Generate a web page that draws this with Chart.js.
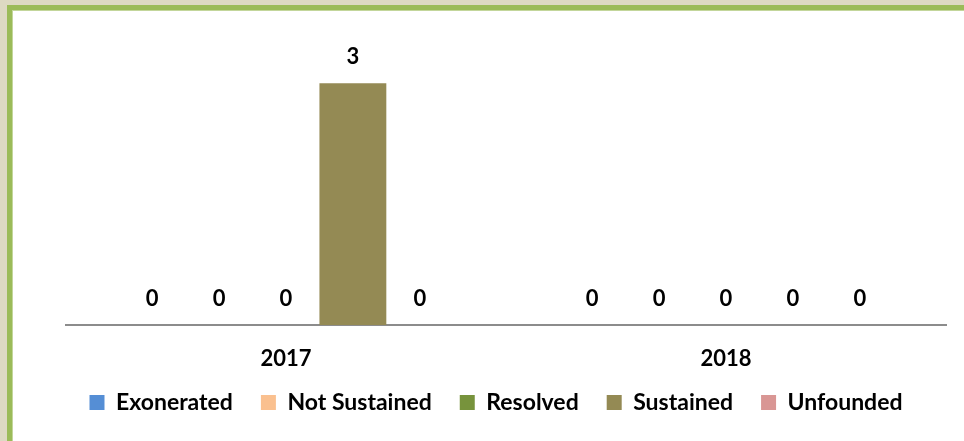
<!DOCTYPE html>
<html>
<head>
<meta charset="utf-8">
<script src="https://cdn.jsdelivr.net/npm/chart.js@4.4.0/dist/chart.umd.min.js"></script>
<style>
  html, body { margin: 0; padding: 0; background: #ddd9c3; overflow: hidden; }
  #frame {
    position: absolute; left: 7px; top: 5px; width: 980px; height: 460px;
    background: #fff; border-left: 5px solid #9bbb59; border-top: 5px solid #9bbb59;
    box-shadow: inset 1px 1px 0 #c3d69b;
  }
  #myChart { position: absolute; left: 0; top: 0; }
</style>
</head>
<body>
<div id="frame"></div>
<canvas id="myChart" width="964" height="441"></canvas>
<script>
var categories = ['2017', '2018'];
var seriesNames = ['Exonerated', 'Not Sustained', 'Resolved', 'Sustained', 'Unfounded'];
var exonerated = [0, 0];
var notSustained = [0, 0];
var resolved = [0, 0];
var sustained = [3, 0];
var unfounded = [0, 0];
var colors = ['#558ed5', '#fac08f', '#77933c', '#948a54', '#d99694'];

var FONT = 'Lato';

// draws the value above each bar
var valueLabels = {
    id: 'valueLabels',
    afterDatasetsDraw: function(chart) {
        var ctx = chart.ctx;
        ctx.save();
        ctx.font = 'bold 22px ' + FONT;
        ctx.fillStyle = '#000';
        ctx.textAlign = 'center';
        ctx.textBaseline = 'alphabetic';
        chart.data.datasets.forEach(function(ds, i) {
            chart.getDatasetMeta(i).data.forEach(function(bar, j) {
                ctx.fillText(ds.data[j], bar.x, bar.y - 19);
            });
        });
        ctx.restore();
    }
};

// nudge the legend a bit up and left, keeps the wide spacing between items
var legendNudge = {
    id: 'legendNudge',
    afterLayout: function(chart) {
        var lg = chart.legend;
        lg.top -= 10; lg.bottom -= 10;
        lg.left -= 10; lg.right -= 10;
    }
};

var allData = [exonerated, notSustained, resolved, sustained, unfounded];
var datasets = seriesNames.map(function(name, i) {
    return {
        label: name,
        data: allData[i],
        backgroundColor: colors[i],
        borderWidth: 0
    };
});

var ctx = document.getElementById('myChart').getContext('2d');
var myChart = new Chart(ctx, {
    type: 'bar',
    data: { labels: categories, datasets: datasets },
    options: {
        responsive: false,
        animation: false,
        layout: { padding: { left: 66, right: 18, top: 43, bottom: 7 } },
        datasets: { bar: { categoryPercentage: 0.76, barPercentage: 1.0 } },
        scales: {
            x: {
                grid: { display: false, drawTicks: false },
                border: { display: true, color: '#8c8c8c', width: 2 },
                ticks: { color: '#000', font: { family: FONT, size: 22, weight: 'bold' }, padding: 21 },
                afterFit: function(scale) { scale.height = 48; }
            },
            y: {
                display: false,
                min: 0,
                max: 3.5
            }
        },
        plugins: {
            legend: {
                position: 'bottom',
                labels: {
                    color: '#000',
                    boxWidth: 15,
                    boxHeight: 15,
                    padding: 28,
                    font: { family: FONT, size: 23, weight: 'bold' }
                }
            },
            tooltip: { enabled: false }
        }
    },
    plugins: [valueLabels, legendNudge]
});
</script>
</body>
</html>
